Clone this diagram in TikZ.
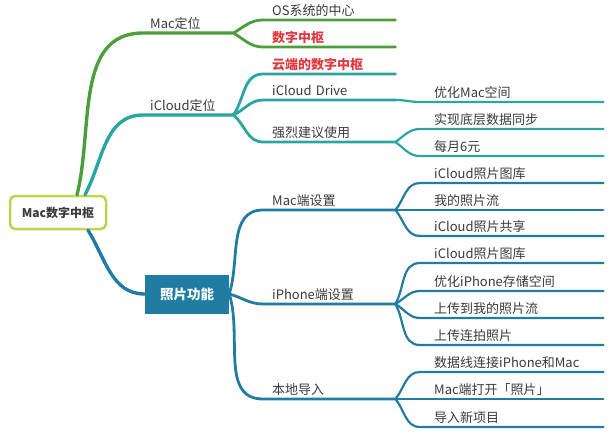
\documentclass[tikz,border=0pt]{standalone}
\usepackage{fontspec}
\newfontfamily\cjk{Noto Sans CJK SC}
\usetikzlibrary{positioning}
\definecolor{macgreen}{HTML}{4C9E3A}
\definecolor{cloudteal}{HTML}{2AA6A0}
\definecolor{photoblue}{HTML}{1F7DA3}
\definecolor{rootrim}{HTML}{BDD54E}
\definecolor{hotred}{HTML}{E03A40}
\definecolor{inkgray}{HTML}{3A3A3A}
\tikzset{
  every node/.style={font=\cjk\fontsize{13}{15}\selectfont, text=inkgray},
  topic/.style={anchor=south west, align=left, inner ysep=3pt, text depth=1.5pt},
  lvlone/.style={topic, inner xsep=7pt, text width=76pt},
  lvltwo/.style={topic, inner xsep=9pt, text width=114pt},
  lvlthree/.style={topic, inner xsep=14pt, text width=155pt},
  hot/.style={text=hotred, font=\cjk\fontsize{13}{15}\selectfont\bfseries},
  mainline/.style={line width=3.4pt, line cap=round},
  subline/.style={line width=2.8pt, line cap=round},
  leafline/.style={line width=2.2pt, line cap=round}
}
\begin{document}
\begin{tikzpicture}[x=1pt,y=-1pt]
    \useasboundingbox (0,0) rectangle (612,436);

    % central topic and photo box
    \node[draw=rootrim, line width=2.5pt, rounded corners=5pt, fill=white, minimum width=96pt, minimum height=33pt, font=\cjk\fontsize{12}{14}\selectfont\bfseries] (root) at (58,212.5) {Mac数字中枢};
    \node[fill=photoblue, minimum width=84pt, minimum height=39pt, text=white, font=\cjk\fontsize{13.5}{15}\selectfont\bfseries] (photo) at (187,294) {照片功能};

    % first level
    \node[lvlone] (macpos) at (143,33) {Mac定位};
    \node[lvlone] (cloudpos) at (143,115) {iCloud定位};

    % second level
    \node[lvltwo] (oscore) at (263,20) {OS系统的中心};
    \node[lvltwo, hot] (dighub) at (263,47) {数字中枢};
    \node[lvltwo, hot] (cloudhub) at (263,74) {云端的数字中枢};
    \node[lvltwo] (drive) at (263,100) {iCloud Drive};
    \node[lvltwo] (advise) at (263,142) {强烈建议使用};
    \node[lvltwo] (macset) at (263,210) {Mac端设置};
    \node[lvltwo] (phoneset) at (263,304) {iPhone端设置};
    \node[lvltwo] (localin) at (263,399) {本地导入};

    % third level
    \node[lvlthree] (optmac) at (420,102) {优化Mac空间};
    \node[lvlthree] (syncdata) at (420,129) {实现底层数据同步};
    \node[lvlthree] (sixyuan) at (420,156) {每月6元};
    \node[lvlthree] (maclib) at (420,183) {iCloud照片图库};
    \node[lvlthree] (macstream) at (420,210) {我的照片流};
    \node[lvlthree] (macshare) at (420,236) {iCloud照片共享};
    \node[lvlthree] (phonelib) at (420,263) {iCloud照片图库};
    \node[lvlthree] (phoneopt) at (420,291) {优化iPhone存储空间};
    \node[lvlthree] (phonestream) at (420,318) {上传到我的照片流};
    \node[lvlthree] (phoneburst) at (420,345) {上传连拍照片};
    \node[lvlthree] (cable) at (420,372) {数据线连接iPhone和Mac};
    \node[lvlthree] (openphotos) at (420,399) {Mac端打开「照片」};
    \node[lvlthree] (newitems) at (420,427) {导入新项目};

    % Mac branch
    \draw[mainline, macgreen] ([xshift=19pt]root.north) to[out=76,in=180] (macpos.south west) -- (macpos.south east);
    \draw[subline, macgreen] (macpos.south east) to[out=30,in=180] (oscore.south west) -- (oscore.south east);
    \draw[subline, macgreen] (macpos.south east) to[out=-30,in=180] (dighub.south west) -- (dighub.south east);

    % iCloud branch
    \draw[mainline, cloudteal] ([xshift=27pt]root.north) to[out=62,in=180] (cloudpos.south west) -- (cloudpos.south east);
    \draw[subline, cloudteal] (cloudpos.south east) to[out=55,in=180] (cloudhub.south west) -- (cloudhub.south east);
    \draw[subline, cloudteal] (cloudpos.south east) to[out=25,in=180] (drive.south west) -- (drive.south east);
    \draw[subline, cloudteal] (cloudpos.south east) to[out=-40,in=180] (advise.south west) -- (advise.south east);
    \draw[leafline, cloudteal] (drive.south east) to[out=0,in=180] (optmac.south west) -- (optmac.south east);
    \draw[leafline, cloudteal] (advise.south east) to[out=35,in=180] (syncdata.south west) -- (syncdata.south east);
    \draw[leafline, cloudteal] (advise.south east) to[out=-35,in=180] (sixyuan.south west) -- (sixyuan.south east);

    % photo branch
    \draw[mainline, photoblue] ([xshift=30pt]root.south) to[out=-58,in=180] (photo.west);
    \draw[subline, photoblue] (photo.east) to[out=72,in=180] (macset.south west) -- (macset.south east);
    \draw[subline, photoblue] (photo.east) to[out=-15,in=180] (phoneset.south west) -- (phoneset.south east);
    \draw[subline, photoblue] (photo.east) to[out=-72,in=180] (localin.south west) -- (localin.south east);
    \draw[leafline, photoblue] (macset.south east) to[out=50,in=180] (maclib.south west) -- (maclib.south east);
    \draw[leafline, photoblue] (macset.south east) -- (macstream.south west) -- (macstream.south east);
    \draw[leafline, photoblue] (macset.south east) to[out=-50,in=180] (macshare.south west) -- (macshare.south east);
    \draw[leafline, photoblue] (phoneset.south east) to[out=60,in=180] (phonelib.south west) -- (phonelib.south east);
    \draw[leafline, photoblue] (phoneset.south east) to[out=30,in=180] (phoneopt.south west) -- (phoneopt.south east);
    \draw[leafline, photoblue] (phoneset.south east) to[out=-30,in=180] (phonestream.south west) -- (phonestream.south east);
    \draw[leafline, photoblue] (phoneset.south east) to[out=-60,in=180] (phoneburst.south west) -- (phoneburst.south east);
    \draw[leafline, photoblue] (localin.south east) to[out=50,in=180] (cable.south west) -- (cable.south east);
    \draw[leafline, photoblue] (localin.south east) -- (openphotos.south west) -- (openphotos.south east);
    \draw[leafline, photoblue] (localin.south east) to[out=-50,in=180] (newitems.south west) -- (newitems.south east);
\end{tikzpicture}
\end{document}
